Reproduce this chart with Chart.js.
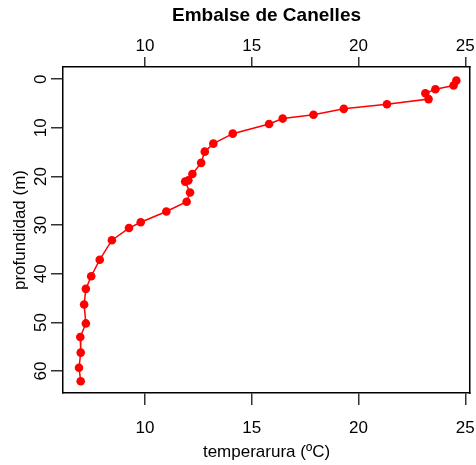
<!DOCTYPE html>
<html>
<head>
<meta charset="utf-8">
<script src="https://cdn.jsdelivr.net/npm/chart.js@4"></script>
<style>
  html, body { margin: 0; padding: 0; background: #ffffff; }
  #wrap { width: 476px; height: 465px; }
</style>
</head>
<body>
<div id="wrap"><canvas id="c" width="476" height="465"></canvas></div>
<script>
const chartTitle = "Embalse de Canelles";
const xTitle = "temperarura (ºC)";
const yTitle = "profundidad (m)";
const temperature = [24.58, 24.45, 23.6, 23.13, 23.28, 21.33, 19.31, 17.89, 16.45, 15.81, 14.11, 13.2, 12.8, 12.63, 12.22, 12.03, 11.88, 12.11, 11.95, 11.0, 9.8, 9.25, 8.45, 7.88, 7.48, 7.23, 7.15, 7.23, 6.97, 6.99, 6.91, 6.99];
const depth =       [0.3, 1.3, 2.06, 2.9, 4.1, 5.15, 6.1, 7.3, 8.1, 9.2, 11.2, 13.25, 14.9, 17.2, 19.5, 20.8, 21.05, 23.3, 25.2, 27.2, 29.4, 30.6, 33.1, 37.1, 40.5, 43.1, 46.3, 50.2, 53.0, 56.2, 59.3, 62.1];
const xTicks = [10, 15, 20, 25];
const yTicks = [0, 10, 20, 30, 40, 50, 60];

const points = temperature.map((t, i) => ({ x: t, y: depth[i] }));
const FONT = "'Liberation Sans', Arial, sans-serif";

function noPad(s) { s.paddingLeft = 0; s.paddingRight = 0; s.paddingTop = 0; s.paddingBottom = 0; }

new Chart(document.getElementById('c'), {
  type: 'scatter',
  data: {
    datasets: [{
      data: points,
      showLine: true,
      borderColor: '#ff0000',
      borderWidth: 1.5,
      backgroundColor: '#ff0000',
      pointBackgroundColor: '#ff0000',
      pointBorderWidth: 0,
      pointRadius: 4.3,
      tension: 0
    }]
  },
  options: {
    responsive: false,
    animation: false,
    devicePixelRatio: 1,
    layout: { padding: 0 },
    plugins: {
      legend: { display: false },
      tooltip: { enabled: false },
      title: {
        display: true,
        fullSize: false,
        text: chartTitle,
        color: '#000000',
        font: { family: FONT, size: 19, weight: 'bold', lineHeight: 1.2 },
        padding: { top: 4.6, bottom: 0 }
      }
    },
    scales: {
      x: {
        type: 'linear',
        position: 'bottom',
        min: 6.16, max: 25.22,
        afterBuildTicks: s => { s.ticks = xTicks.map(v => ({ value: v })); },
        afterFit: s => { s.height = 72; noPad(s); },
        grid: { drawOnChartArea: false, drawTicks: true, tickLength: 12, color: '#000000', tickColor: '#333333', lineWidth: 1.5 },
        border: { display: true, color: '#000000', width: 1.5 },
        ticks: { color: '#000000', padding: 13.3, maxRotation: 0, font: { family: FONT, size: 17 } },
        title: { display: true, text: xTitle, color: '#000000', font: { family: FONT, size: 17, lineHeight: 1.2 }, padding: { top: 0, bottom: 2.8 } }
      },
      x2: {
        type: 'linear',
        position: 'top',
        min: 6.16, max: 25.22,
        afterBuildTicks: s => { s.ticks = xTicks.map(v => ({ value: v })); },
        afterFit: s => { s.height = 39.6; noPad(s); },
        grid: { drawOnChartArea: false, drawTicks: true, tickLength: 10, color: '#000000', tickColor: '#333333', lineWidth: 1.5 },
        border: { display: true, color: '#000000', width: 1.5 },
        ticks: { color: '#000000', padding: 0.8, maxRotation: 0, font: { family: FONT, size: 17 } }
      },
      y: {
        type: 'linear',
        position: 'left',
        reverse: true,
        min: -2.5, max: 64.5,
        afterBuildTicks: s => { s.ticks = yTicks.map(v => ({ value: v })); },
        afterFit: s => { s.width = 63; noPad(s); },
        grid: { drawOnChartArea: false, drawTicks: true, tickLength: 12, color: '#000000', tickColor: '#333333', lineWidth: 1.5 },
        border: { display: true, color: '#000000', width: 1.5 },
        ticks: { color: '#000000', padding: 0.55, minRotation: 90, maxRotation: 90, crossAlign: 'center', font: { family: FONT, size: 17 } },
        title: { display: true, text: yTitle, color: '#000000', font: { family: FONT, size: 17, lineHeight: 1.2 }, padding: { top: 9.8, bottom: 0 } }
      },
      y2: {
        type: 'linear',
        position: 'right',
        min: -2.5, max: 64.5,
        afterBuildTicks: s => { s.ticks = []; },
        afterFit: s => { s.width = 6; noPad(s); },
        grid: { display: false, drawTicks: false },
        border: { display: true, color: '#000000', width: 1.5 },
        ticks: { display: false }
      }
    }
  }
});
</script>
</body>
</html>
